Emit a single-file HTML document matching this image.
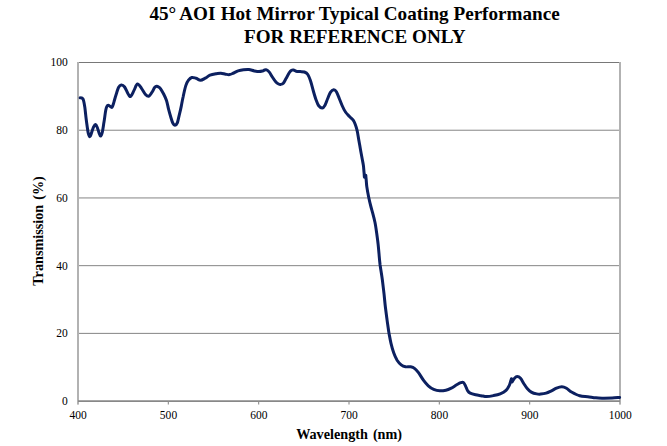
<!DOCTYPE html>
<html><head><meta charset="utf-8"><title>45° AOI Hot Mirror Typical Coating Performance</title>
<style>
html,body{margin:0;padding:0;background:#fff;}
body{width:667px;height:446px;overflow:hidden;}
svg{display:block;}
text{font-family:"Liberation Serif",serif;fill:#000;}
.tt{font-size:19.15px;font-weight:bold;}
.ax{font-size:14.2px;font-weight:bold;word-spacing:1.5px;}
.tk{font-size:12px;}
</style></head><body>
<svg width="667" height="446" viewBox="0 0 667 446">
<rect width="667" height="446" fill="#fff"/>
<text x="354.6" y="19.6" text-anchor="middle" class="tt">45°<tspan dx="-0.7"> AOI</tspan><tspan dx="0.4"> Hot</tspan><tspan dx="0.3"> Mirror Typical Coating Performance</tspan></text>
<text x="354.8" y="42.7" text-anchor="middle" class="tt">FOR REFERENCE ONLY</text>
<line x1="78" x2="620" y1="333.38" y2="333.38" stroke="#858585" stroke-width="1"/>
<line x1="78" x2="620" y1="265.66" y2="265.66" stroke="#858585" stroke-width="1"/>
<line x1="78" x2="620" y1="197.94" y2="197.94" stroke="#858585" stroke-width="1"/>
<line x1="78" x2="620" y1="130.22" y2="130.22" stroke="#858585" stroke-width="1"/>

<line x1="78" x2="620.9" y1="62.5" y2="62.5" stroke="#787878" stroke-width="1"/>
<rect x="619" y="62.0" width="2" height="342.6" fill="#b2b2b2"/>
<rect x="77" y="62.0" width="2" height="342.6" fill="#b2b2b2"/>
<line x1="78" x2="620" y1="401.1" y2="401.1" stroke="#888888" stroke-width="1.6"/>
<line x1="168.33" x2="168.33" y1="401.1" y2="404.6" stroke="#8c8c8c" stroke-width="1.1"/>
<line x1="258.67" x2="258.67" y1="401.1" y2="404.6" stroke="#8c8c8c" stroke-width="1.1"/>
<line x1="349.00" x2="349.00" y1="401.1" y2="404.6" stroke="#8c8c8c" stroke-width="1.1"/>
<line x1="439.33" x2="439.33" y1="401.1" y2="404.6" stroke="#8c8c8c" stroke-width="1.1"/>
<line x1="529.67" x2="529.67" y1="401.1" y2="404.6" stroke="#8c8c8c" stroke-width="1.1"/>

<path d="M80.2 97.8C80.7 98.0 82.2 97.5 83.0 99.0C83.8 100.5 84.2 103.5 84.8 107.0C85.3 110.5 85.7 115.7 86.3 120.0C86.9 124.3 87.6 130.1 88.2 132.9C88.8 135.7 89.4 136.7 89.9 136.7C90.5 136.7 90.9 134.5 91.5 132.9C92.1 131.3 92.9 128.3 93.6 126.9C94.3 125.5 94.9 124.4 95.5 124.5C96.1 124.6 96.7 126.0 97.3 127.5C97.9 129.0 98.7 132.2 99.3 133.6C99.9 135.0 100.2 136.2 100.7 136.0C101.2 135.8 101.8 134.6 102.3 132.3C102.8 130.0 103.4 125.7 104.0 122.1C104.6 118.5 105.2 113.1 105.7 110.5C106.2 107.9 106.4 107.4 106.8 106.5C107.2 105.6 107.8 105.2 108.3 105.2C108.8 105.2 109.4 105.9 110.0 106.3C110.6 106.7 111.4 107.9 112.0 107.4C112.6 106.9 113.1 104.7 113.5 103.5C113.9 102.3 114.0 101.8 114.5 100.0C115.0 98.2 116.0 94.8 116.7 92.7C117.4 90.6 117.8 88.8 118.5 87.5C119.2 86.2 120.2 85.1 121.2 85.0C122.2 84.9 123.5 85.5 124.6 87.0C125.7 88.5 127.0 92.1 128.0 93.7C129.0 95.3 129.7 97.0 130.7 96.4C131.7 95.9 132.9 92.5 134.0 90.4C135.1 88.3 136.2 84.3 137.4 84.0C138.7 83.7 140.2 86.6 141.5 88.3C142.8 90.0 144.3 93.1 145.5 94.4C146.7 95.7 147.7 96.7 148.9 96.2C150.1 95.7 151.7 92.6 152.6 91.2C153.5 89.8 153.9 88.4 154.6 87.6C155.3 86.8 156.0 86.4 156.7 86.3C157.4 86.2 158.2 86.8 158.8 87.2C159.5 87.6 159.8 87.7 160.6 88.8C161.4 89.9 162.5 91.8 163.5 93.7C164.5 95.7 165.7 98.0 166.5 100.5C167.3 103.0 167.8 106.0 168.5 108.8C169.2 111.6 170.2 115.1 170.9 117.5C171.6 119.9 172.2 122.0 172.9 123.3C173.6 124.6 174.2 125.4 174.9 125.3C175.6 125.2 176.6 124.7 177.3 122.9C178.0 121.2 178.6 117.6 179.3 114.8C180.0 112.0 180.7 109.1 181.3 106.1C181.9 103.1 182.3 100.4 183.1 97.0C183.8 93.6 184.9 88.4 185.8 85.6C186.7 82.8 187.5 81.5 188.5 80.2C189.5 78.9 190.6 77.8 191.8 77.5C193.0 77.2 194.4 77.8 195.9 78.2C197.4 78.7 199.0 80.2 200.6 80.2C202.2 80.2 203.7 79.0 205.3 78.2C206.9 77.4 208.2 75.9 210.0 75.2C211.8 74.5 214.3 74.1 216.1 73.8C217.9 73.5 219.3 73.1 220.9 73.2C222.5 73.3 224.2 74.0 225.6 74.2C227.0 74.4 228.2 74.8 229.6 74.6C230.9 74.4 232.3 73.6 233.7 73.0C235.1 72.4 236.5 71.4 238.1 70.9C239.7 70.4 241.7 70.0 243.5 69.8C245.3 69.6 247.1 69.4 248.9 69.6C250.7 69.8 252.6 70.6 254.3 70.9C256.0 71.2 257.6 71.5 259.0 71.5C260.4 71.5 261.7 71.2 262.6 71.0C263.5 70.8 263.9 70.2 264.6 70.0C265.3 69.8 265.9 69.6 266.6 69.9C267.4 70.2 268.1 70.7 269.1 71.9C270.1 73.1 271.4 75.6 272.5 77.3C273.6 79.0 274.9 80.9 275.9 82.0C276.9 83.1 277.8 83.6 278.6 84.0C279.4 84.4 279.8 84.5 280.6 84.4C281.4 84.3 282.4 84.3 283.3 83.3C284.2 82.3 285.0 80.4 286.0 78.6C287.0 76.8 288.5 73.9 289.4 72.5C290.3 71.1 290.9 70.6 291.6 70.2C292.3 69.8 292.9 69.8 293.6 70.0C294.4 70.2 295.0 70.9 296.1 71.2C297.2 71.5 298.8 71.5 300.2 71.6C301.6 71.7 303.1 71.5 304.4 72.0C305.7 72.5 306.8 73.0 307.8 74.5C308.8 76.0 309.6 78.1 310.5 80.8C311.4 83.5 312.3 87.3 313.2 90.5C314.1 93.7 315.1 97.2 316.0 99.7C316.9 102.2 317.6 104.4 318.7 105.8C319.8 107.2 321.2 108.0 322.3 107.9C323.4 107.8 324.1 106.8 325.0 105.2C325.9 103.6 326.8 100.6 327.7 98.5C328.6 96.4 329.4 93.9 330.4 92.4C331.4 90.9 332.7 89.8 333.7 89.7C334.7 89.6 335.5 90.2 336.4 91.7C337.3 93.2 338.4 96.2 339.3 98.5C340.2 100.8 341.1 103.2 342.1 105.5C343.1 107.8 344.3 110.2 345.5 112.0C346.7 113.8 348.2 115.1 349.5 116.5C350.8 117.9 352.2 118.9 353.2 120.2C354.1 121.5 354.6 122.7 355.2 124.3C355.8 125.9 356.4 127.7 356.9 129.7C357.4 131.7 357.8 133.9 358.2 136.4C358.6 138.9 359.1 141.7 359.6 144.5C360.1 147.3 360.6 150.4 361.1 153.0C361.6 155.6 362.0 157.9 362.4 160.0C362.8 162.1 363.1 163.5 363.4 165.5C363.7 167.5 363.8 170.1 364.0 172.0C364.2 173.9 364.3 176.3 364.4 177.2 M365.8 175.2C365.8 176.0 366.0 178.1 366.2 180.0C366.4 181.9 366.4 183.7 366.8 186.6C367.2 189.5 368.0 193.8 368.7 197.2C369.4 200.6 370.3 204.3 371.0 207.0C371.7 209.7 372.0 210.5 372.7 213.1C373.4 215.7 374.3 219.1 375.0 222.5C375.7 225.9 376.2 229.7 376.7 233.3C377.2 236.9 377.7 240.5 378.1 244.1C378.5 247.7 378.8 251.4 379.1 254.9C379.4 258.4 379.6 260.8 380.1 265.0C380.7 269.2 381.8 275.4 382.4 280.2C383.0 285.0 383.5 289.2 384.0 293.7C384.5 298.2 384.9 303.1 385.4 307.2C385.9 311.2 386.4 315.1 386.8 318.0C387.2 320.9 387.3 321.9 387.7 324.4C388.1 326.9 388.4 330.0 389.0 333.2C389.6 336.4 390.2 340.0 391.0 343.3C391.8 346.6 392.7 350.0 393.7 352.8C394.7 355.6 395.9 358.2 397.1 360.2C398.4 362.2 399.8 363.8 401.2 364.9C402.6 366.0 403.9 366.5 405.5 366.8C407.1 367.1 409.1 366.5 410.7 366.8C412.2 367.1 413.5 367.6 414.8 368.6C416.1 369.6 417.0 370.7 418.5 372.7C420.0 374.7 422.0 378.2 423.6 380.4C425.2 382.6 426.6 384.3 428.3 385.8C430.0 387.3 431.8 388.6 433.7 389.4C435.6 390.2 437.8 390.7 439.8 390.8C441.8 390.9 444.0 390.6 445.9 390.2C447.8 389.8 449.5 389.0 451.3 388.1C453.1 387.2 455.1 385.7 456.7 384.8C458.3 383.9 459.6 383.1 460.7 382.7C461.8 382.3 462.6 381.9 463.4 382.4C464.2 382.9 464.8 384.4 465.5 385.8C466.2 387.2 466.7 389.3 467.5 390.5C468.3 391.7 468.8 392.5 470.2 393.2C471.6 393.9 473.8 394.4 475.6 394.8C477.4 395.2 479.1 395.4 481.0 395.7C482.9 396.0 484.6 396.6 486.7 396.6C488.8 396.6 491.2 396.1 493.5 395.6C495.8 395.2 498.1 394.8 500.2 393.9C502.3 393.0 504.5 391.8 506.0 390.4C507.5 389.0 508.5 386.9 509.3 385.3C510.1 383.7 510.4 381.9 510.8 380.8C511.2 379.7 511.4 379.1 511.5 378.7 M512.1 382.0C512.5 381.4 513.6 379.1 514.5 378.2C515.4 377.3 516.2 376.6 517.2 376.6C518.2 376.6 519.4 377.1 520.5 378.3C521.6 379.5 522.8 382.0 523.9 383.7C525.0 385.4 526.0 387.1 527.2 388.5C528.4 389.9 529.7 391.2 531.3 392.1C532.9 393.0 535.1 393.6 536.7 393.9C538.3 394.2 539.1 394.2 540.7 394.1C542.3 394.0 544.3 393.8 546.1 393.2C547.9 392.6 549.8 391.6 551.5 390.8C553.2 390.0 554.8 388.9 556.5 388.2C558.2 387.5 560.1 386.8 561.8 386.8C563.5 386.8 564.9 387.4 566.5 388.3C568.1 389.2 569.3 390.8 571.5 392.0C573.7 393.2 577.0 395.0 579.7 395.8C582.4 396.6 585.1 396.4 587.8 396.7C590.5 397.0 593.2 397.6 595.9 397.8C598.6 398.1 601.3 398.1 604.0 398.2C606.7 398.2 609.5 398.2 612.1 398.1C614.7 398.0 618.4 397.5 619.6 397.4" fill="none" stroke="#0c2060" stroke-width="3" stroke-linejoin="round" stroke-linecap="round"/>
<text transform="translate(67.8 405.0) scale(.96 1.07)" text-anchor="end" class="tk">0</text>
<text transform="translate(67.8 337.3) scale(.96 1.07)" text-anchor="end" class="tk">20</text>
<text transform="translate(67.8 269.6) scale(.96 1.07)" text-anchor="end" class="tk">40</text>
<text transform="translate(67.8 201.8) scale(.96 1.07)" text-anchor="end" class="tk">60</text>
<text transform="translate(67.8 134.1) scale(.96 1.07)" text-anchor="end" class="tk">80</text>
<text transform="translate(67.8 66.4) scale(.96 1.07)" text-anchor="end" class="tk">100</text>

<text transform="translate(78.2 419.1) scale(.96 1.09)" text-anchor="middle" class="tk">400</text>
<text transform="translate(168.5 419.1) scale(.96 1.09)" text-anchor="middle" class="tk">500</text>
<text transform="translate(258.9 419.1) scale(.96 1.09)" text-anchor="middle" class="tk">600</text>
<text transform="translate(349.2 419.1) scale(.96 1.09)" text-anchor="middle" class="tk">700</text>
<text transform="translate(439.5 419.1) scale(.96 1.09)" text-anchor="middle" class="tk">800</text>
<text transform="translate(529.9 419.1) scale(.96 1.09)" text-anchor="middle" class="tk">900</text>
<text transform="translate(620.2 419.1) scale(.96 1.09)" text-anchor="middle" class="tk">1000</text>

<text x="349.1" y="438.8" text-anchor="middle" class="ax">Wavelength (nm)</text>
<text transform="translate(43.2 231) rotate(-90)" text-anchor="middle" class="ax">Transmission (%)</text>
</svg>
</body></html>
